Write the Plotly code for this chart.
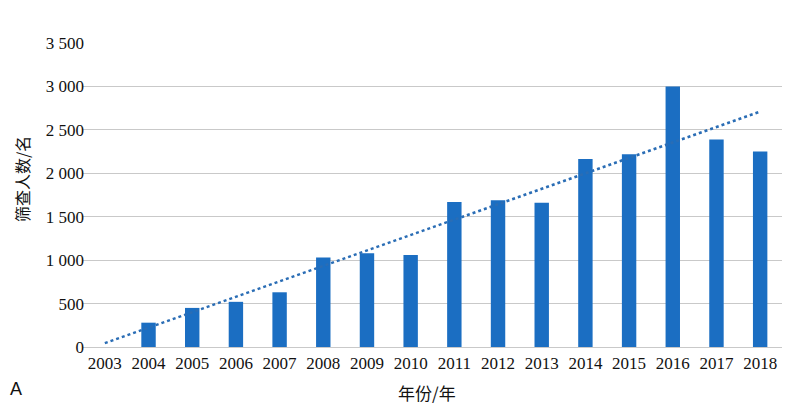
import plotly.graph_objects as go

years = ["2003", "2004", "2005", "2006", "2007", "2008", "2009", "2010",
         "2011", "2012", "2013", "2014", "2015", "2016", "2017", "2018"]
screened = [0, 280, 450, 520, 630, 1030, 1080, 1060,
            1670, 1690, 1660, 2165, 2220, 3000, 2390, 2250]
trend_years = ["2003", "2018"]
trend_values = [45, 2710]
y_tick_vals = [0, 500, 1000, 1500, 2000, 2500, 3000, 3500]
y_tick_text = ["0", "500", "1 000", "1 500", "2 000", "2 500", "3 000", "3 500"]

bar_color = "#1B6EC2"

W, H = 782, 402
L, R, T, B = 75, 8, 35, 63

fig = go.Figure()
fig.add_trace(go.Bar(x=years, y=screened, marker=dict(color=bar_color, line=dict(width=0)),
                     width=0.33, showlegend=False))
fig.add_trace(go.Scatter(x=trend_years, y=trend_values, mode="lines",
                         line=dict(color="#2a6db5", width=2.5, dash="dot"),
                         showlegend=False))

serif = "'Liberation Serif', 'Times New Roman', 'DejaVu Serif', serif"
cjk = "'Noto Sans CJK SC', sans-serif"

pw, ph = W - L - R, H - T - B

fig.update_layout(
    width=W, height=H,
    margin=dict(l=L, r=R, t=T, b=B, autoexpand=False),
    paper_bgcolor="white", plot_bgcolor="white",
    font=dict(family=serif, size=17, color="#111111"),
    xaxis=dict(type="category", showgrid=False, showline=False, ticks="",
               automargin=False, ticklabelstandoff=4,
               tickfont=dict(family=serif, size=17, color="#111111")),
    yaxis=dict(range=[0, 3500], tickvals=y_tick_vals, ticktext=y_tick_text,
               automargin=False, ticklabelstandoff=-2,
               showgrid=True, gridcolor="#c9c9c9", gridwidth=1.2,
               zeroline=True, zerolinecolor="#c9c9c9", zerolinewidth=1.2,
               showline=False, ticks="",
               tickfont=dict(family=serif, size=17, color="#111111")),
    annotations=[
        dict(text="筛查人数/名", textangle=-90, showarrow=False,
             xref="paper", yref="paper", x=(22 - 8 - L) / pw, y=((H - B) - (179 - 8)) / ph,
             xanchor="center", yanchor="middle",
             font=dict(family=cjk, size=16, color="#111111")),
        dict(text="年份/年", showarrow=False, xref="paper", yref="paper",
             x=(427 - 8 - L) / pw, y=-((392 - 8) - (H - B)) / ph,
             xanchor="center", yanchor="middle",
             font=dict(family=cjk, size=17, color="#111111")),
        dict(text="A", showarrow=False, xref="paper", yref="paper",
             x=(16 - 8 - L) / pw, y=-((389 - 8) - (H - B)) / ph,
             xanchor="center", yanchor="middle",
             font=dict(family="'Liberation Sans', Arial, sans-serif", size=18, color="#111111")),
    ],
)

fig.write_html("out.html")
